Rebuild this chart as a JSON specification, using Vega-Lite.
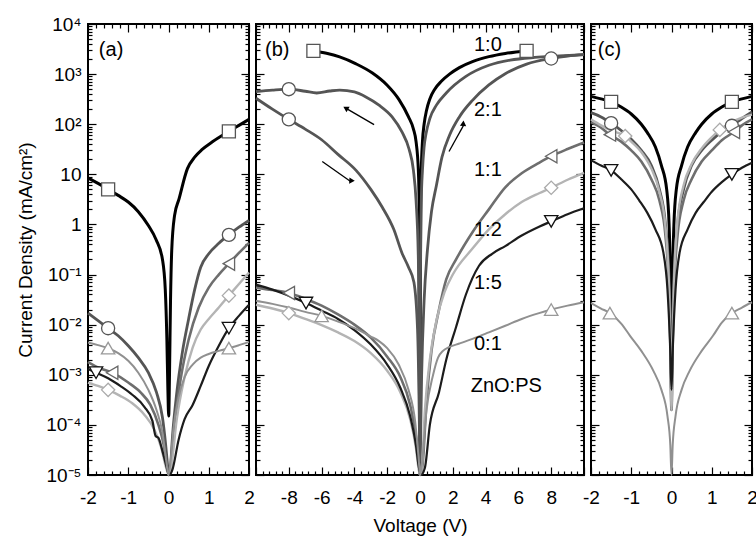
{
  "$schema": "https://vega.github.io/schema/vega-lite/v6.json",
  "padding": {"left": 15, "top": 14, "right": 0, "bottom": 0},
  "bounds": "flush",
  "spacing": 7,
  "config": {
    "font": "Liberation Sans",
    "view": {"stroke": "#000000", "strokeWidth": 2},
    "axis": {"domain": false, "grid": false, "tickColor": "#000000", "tickWidth": 1.2, "labelFont": "Liberation Sans", "labelFontSize": 19, "labelColor": "#000000", "titleFont": "Liberation Sans", "titleFontSize": 19, "titleFontWeight": "normal", "titleColor": "#000000", "labelOverlap": false, "labelFlush": false}
  },
  "datasets": {
    "curves": [
      {"c":"a10","p":"a","s":"1:0","x":-2,"y":8.5},{"c":"a10","p":"a","s":"1:0","x":-1.75,"y":6.6},{"c":"a10","p":"a","s":"1:0","x":-1.5,"y":5},{"c":"a10","p":"a","s":"1:0","x":-1.25,"y":3.8},{"c":"a10","p":"a","s":"1:0","x":-1,"y":2.8},{"c":"a10","p":"a","s":"1:0","x":-0.75,"y":1.8},{"c":"a10","p":"a","s":"1:0","x":-0.5,"y":0.95},{"c":"a10","p":"a","s":"1:0","x":-0.31,"y":0.5},{"c":"a10","p":"a","s":"1:0","x":-0.15,"y":0.2},{"c":"a10","p":"a","s":"1:0","x":-0.08,"y":0.05},{"c":"a10","p":"a","s":"1:0","x":-0.04,"y":0.005},{"c":"a10","p":"a","s":"1:0","x":-0.015,"y":0.0005},{"c":"a10","p":"a","s":"1:0","x":0.005,"y":0.00015},{"c":"a10","p":"a","s":"1:0","x":0.025,"y":0.001},{"c":"a10","p":"a","s":"1:0","x":0.05,"y":0.03},{"c":"a10","p":"a","s":"1:0","x":0.08,"y":0.3},{"c":"a10","p":"a","s":"1:0","x":0.15,"y":1.5},{"c":"a10","p":"a","s":"1:0","x":0.26,"y":3.2},{"c":"a10","p":"a","s":"1:0","x":0.47,"y":13},{"c":"a10","p":"a","s":"1:0","x":0.65,"y":22},{"c":"a10","p":"a","s":"1:0","x":0.83,"y":31},{"c":"a10","p":"a","s":"1:0","x":1.1,"y":45},{"c":"a10","p":"a","s":"1:0","x":1.5,"y":72},{"c":"a10","p":"a","s":"1:0","x":1.75,"y":95},{"c":"a10","p":"a","s":"1:0","x":2,"y":125},
      {"c":"a21","p":"a","s":"2:1","x":-2,"y":0.017},{"c":"a21","p":"a","s":"2:1","x":-1.75,"y":0.012},{"c":"a21","p":"a","s":"2:1","x":-1.5,"y":0.0085},{"c":"a21","p":"a","s":"2:1","x":-1.25,"y":0.006},{"c":"a21","p":"a","s":"2:1","x":-1,"y":0.0038},{"c":"a21","p":"a","s":"2:1","x":-0.75,"y":0.0022},{"c":"a21","p":"a","s":"2:1","x":-0.5,"y":0.0011},{"c":"a21","p":"a","s":"2:1","x":-0.3,"y":0.00045},{"c":"a21","p":"a","s":"2:1","x":-0.15,"y":0.00014},{"c":"a21","p":"a","s":"2:1","x":-0.07,"y":0.00004},{"c":"a21","p":"a","s":"2:1","x":-0.02,"y":0.000015},{"c":"a21","p":"a","s":"2:1","x":0.01,"y":0.00001},{"c":"a21","p":"a","s":"2:1","x":0.05,"y":0.000015},{"c":"a21","p":"a","s":"2:1","x":0.1,"y":0.00006},{"c":"a21","p":"a","s":"2:1","x":0.2,"y":0.0004},{"c":"a21","p":"a","s":"2:1","x":0.35,"y":0.003},{"c":"a21","p":"a","s":"2:1","x":0.5,"y":0.013},{"c":"a21","p":"a","s":"2:1","x":0.65,"y":0.05},{"c":"a21","p":"a","s":"2:1","x":0.8,"y":0.14},{"c":"a21","p":"a","s":"2:1","x":1,"y":0.26},{"c":"a21","p":"a","s":"2:1","x":1.25,"y":0.42},{"c":"a21","p":"a","s":"2:1","x":1.5,"y":0.62},{"c":"a21","p":"a","s":"2:1","x":1.75,"y":0.88},{"c":"a21","p":"a","s":"2:1","x":2,"y":1.2},
      {"c":"a11","p":"a","s":"1:1","x":-2,"y":0.0018},{"c":"a11","p":"a","s":"1:1","x":-1.75,"y":0.0014},{"c":"a11","p":"a","s":"1:1","x":-1.4,"y":0.0011},{"c":"a11","p":"a","s":"1:1","x":-1,"y":0.0007},{"c":"a11","p":"a","s":"1:1","x":-0.7,"y":0.00045},{"c":"a11","p":"a","s":"1:1","x":-0.45,"y":0.00025},{"c":"a11","p":"a","s":"1:1","x":-0.25,"y":0.0001},{"c":"a11","p":"a","s":"1:1","x":-0.12,"y":0.00004},{"c":"a11","p":"a","s":"1:1","x":-0.04,"y":0.000015},{"c":"a11","p":"a","s":"1:1","x":0.01,"y":0.00001},{"c":"a11","p":"a","s":"1:1","x":0.06,"y":0.000015},{"c":"a11","p":"a","s":"1:1","x":0.15,"y":0.0001},{"c":"a11","p":"a","s":"1:1","x":0.3,"y":0.0008},{"c":"a11","p":"a","s":"1:1","x":0.5,"y":0.005},{"c":"a11","p":"a","s":"1:1","x":0.75,"y":0.022},{"c":"a11","p":"a","s":"1:1","x":1,"y":0.055},{"c":"a11","p":"a","s":"1:1","x":1.25,"y":0.1},{"c":"a11","p":"a","s":"1:1","x":1.5,"y":0.165},{"c":"a11","p":"a","s":"1:1","x":1.75,"y":0.27},{"c":"a11","p":"a","s":"1:1","x":2,"y":0.43},
      {"c":"a12","p":"a","s":"1:2","x":-2,"y":0.0007},{"c":"a12","p":"a","s":"1:2","x":-1.75,"y":0.0006},{"c":"a12","p":"a","s":"1:2","x":-1.5,"y":0.0005},{"c":"a12","p":"a","s":"1:2","x":-1.2,"y":0.00038},{"c":"a12","p":"a","s":"1:2","x":-0.9,"y":0.00027},{"c":"a12","p":"a","s":"1:2","x":-0.6,"y":0.00016},{"c":"a12","p":"a","s":"1:2","x":-0.35,"y":0.00008},{"c":"a12","p":"a","s":"1:2","x":-0.18,"y":0.000035},{"c":"a12","p":"a","s":"1:2","x":-0.07,"y":0.000015},{"c":"a12","p":"a","s":"1:2","x":0.01,"y":0.00001},{"c":"a12","p":"a","s":"1:2","x":0.07,"y":0.000015},{"c":"a12","p":"a","s":"1:2","x":0.2,"y":0.00012},{"c":"a12","p":"a","s":"1:2","x":0.4,"y":0.0009},{"c":"a12","p":"a","s":"1:2","x":0.6,"y":0.0035},{"c":"a12","p":"a","s":"1:2","x":0.8,"y":0.008},{"c":"a12","p":"a","s":"1:2","x":1,"y":0.013},{"c":"a12","p":"a","s":"1:2","x":1.25,"y":0.022},{"c":"a12","p":"a","s":"1:2","x":1.5,"y":0.038},{"c":"a12","p":"a","s":"1:2","x":1.75,"y":0.065},{"c":"a12","p":"a","s":"1:2","x":2,"y":0.11},
      {"c":"a15","p":"a","s":"1:5","x":-2,"y":0.0013},{"c":"a15","p":"a","s":"1:5","x":-1.8,"y":0.0011},{"c":"a15","p":"a","s":"1:5","x":-1.5,"y":0.00085},{"c":"a15","p":"a","s":"1:5","x":-1.2,"y":0.0006},{"c":"a15","p":"a","s":"1:5","x":-0.9,"y":0.0004},{"c":"a15","p":"a","s":"1:5","x":-0.6,"y":0.00023},{"c":"a15","p":"a","s":"1:5","x":-0.4,"y":0.00012},{"c":"a15","p":"a","s":"1:5","x":-0.32,"y":0.00006},{"c":"a15","p":"a","s":"1:5","x":-0.25,"y":0.000055},{"c":"a15","p":"a","s":"1:5","x":-0.15,"y":0.00003},{"c":"a15","p":"a","s":"1:5","x":-0.07,"y":0.000017},{"c":"a15","p":"a","s":"1:5","x":0.02,"y":0.00001},{"c":"a15","p":"a","s":"1:5","x":0.1,"y":0.000013},{"c":"a15","p":"a","s":"1:5","x":0.25,"y":0.00005},{"c":"a15","p":"a","s":"1:5","x":0.4,"y":0.00013},{"c":"a15","p":"a","s":"1:5","x":0.6,"y":0.00025},{"c":"a15","p":"a","s":"1:5","x":0.8,"y":0.0006},{"c":"a15","p":"a","s":"1:5","x":1,"y":0.0015},{"c":"a15","p":"a","s":"1:5","x":1.25,"y":0.0038},{"c":"a15","p":"a","s":"1:5","x":1.5,"y":0.0085},{"c":"a15","p":"a","s":"1:5","x":1.75,"y":0.015},{"c":"a15","p":"a","s":"1:5","x":2,"y":0.025},
      {"c":"a01","p":"a","s":"0:1","x":-2,"y":0.0044},{"c":"a01","p":"a","s":"0:1","x":-1.75,"y":0.0039},{"c":"a01","p":"a","s":"0:1","x":-1.5,"y":0.0034},{"c":"a01","p":"a","s":"0:1","x":-1.25,"y":0.0027},{"c":"a01","p":"a","s":"0:1","x":-1,"y":0.0019},{"c":"a01","p":"a","s":"0:1","x":-0.75,"y":0.0011},{"c":"a01","p":"a","s":"0:1","x":-0.5,"y":0.0005},{"c":"a01","p":"a","s":"0:1","x":-0.3,"y":0.0002},{"c":"a01","p":"a","s":"0:1","x":-0.15,"y":0.00007},{"c":"a01","p":"a","s":"0:1","x":-0.06,"y":0.00002},{"c":"a01","p":"a","s":"0:1","x":0,"y":0.00001},{"c":"a01","p":"a","s":"0:1","x":0.05,"y":0.000018},{"c":"a01","p":"a","s":"0:1","x":0.12,"y":0.00008},{"c":"a01","p":"a","s":"0:1","x":0.25,"y":0.00035},{"c":"a01","p":"a","s":"0:1","x":0.4,"y":0.0009},{"c":"a01","p":"a","s":"0:1","x":0.6,"y":0.0016},{"c":"a01","p":"a","s":"0:1","x":0.8,"y":0.0022},{"c":"a01","p":"a","s":"0:1","x":1,"y":0.0026},{"c":"a01","p":"a","s":"0:1","x":1.25,"y":0.003},{"c":"a01","p":"a","s":"0:1","x":1.5,"y":0.0034},{"c":"a01","p":"a","s":"0:1","x":1.75,"y":0.0039},{"c":"a01","p":"a","s":"0:1","x":2,"y":0.0045},

      {"c":"b10","p":"b","s":"1:0","x":-6.5,"y":2900},{"c":"b10","p":"b","s":"1:0","x":-5.7,"y":2600},{"c":"b10","p":"b","s":"1:0","x":-4.9,"y":2200},{"c":"b10","p":"b","s":"1:0","x":-3.9,"y":1600},{"c":"b10","p":"b","s":"1:0","x":-2.9,"y":1050},{"c":"b10","p":"b","s":"1:0","x":-2,"y":600},{"c":"b10","p":"b","s":"1:0","x":-1.28,"y":310},{"c":"b10","p":"b","s":"1:0","x":-0.7,"y":140},{"c":"b10","p":"b","s":"1:0","x":-0.4,"y":80},{"c":"b10","p":"b","s":"1:0","x":-0.24,"y":45},{"c":"b10","p":"b","s":"1:0","x":-0.1,"y":12},{"c":"b10","p":"b","s":"1:0","x":-0.04,"y":1.5},{"c":"b10","p":"b","s":"1:0","x":0,"y":0.0001},{"c":"b10","p":"b","s":"1:0","x":0.04,"y":2},{"c":"b10","p":"b","s":"1:0","x":0.08,"y":12},{"c":"b10","p":"b","s":"1:0","x":0.15,"y":45},{"c":"b10","p":"b","s":"1:0","x":0.25,"y":100},{"c":"b10","p":"b","s":"1:0","x":0.4,"y":190},{"c":"b10","p":"b","s":"1:0","x":0.6,"y":320},{"c":"b10","p":"b","s":"1:0","x":0.9,"y":500},{"c":"b10","p":"b","s":"1:0","x":1.3,"y":720},{"c":"b10","p":"b","s":"1:0","x":1.8,"y":1000},{"c":"b10","p":"b","s":"1:0","x":2.4,"y":1350},{"c":"b10","p":"b","s":"1:0","x":3.2,"y":1780},{"c":"b10","p":"b","s":"1:0","x":4.2,"y":2230},{"c":"b10","p":"b","s":"1:0","x":5.2,"y":2580},{"c":"b10","p":"b","s":"1:0","x":6.5,"y":2900},
      {"c":"b21u","p":"b","s":"2:1","x":-10,"y":450},{"c":"b21u","p":"b","s":"2:1","x":-9,"y":480},{"c":"b21u","p":"b","s":"2:1","x":-8,"y":500},{"c":"b21u","p":"b","s":"2:1","x":-7,"y":455},{"c":"b21u","p":"b","s":"2:1","x":-6.3,"y":420},{"c":"b21u","p":"b","s":"2:1","x":-5.5,"y":460},{"c":"b21u","p":"b","s":"2:1","x":-4.9,"y":480},{"c":"b21u","p":"b","s":"2:1","x":-4,"y":440},{"c":"b21u","p":"b","s":"2:1","x":-3.3,"y":350},{"c":"b21u","p":"b","s":"2:1","x":-2.5,"y":240},{"c":"b21u","p":"b","s":"2:1","x":-1.7,"y":140},{"c":"b21u","p":"b","s":"2:1","x":-1.1,"y":70},{"c":"b21u","p":"b","s":"2:1","x":-0.67,"y":32},{"c":"b21u","p":"b","s":"2:1","x":-0.4,"y":12},{"c":"b21u","p":"b","s":"2:1","x":-0.24,"y":3},{"c":"b21u","p":"b","s":"2:1","x":-0.1,"y":0.2},{"c":"b21u","p":"b","s":"2:1","x":0,"y":0.00001},
      {"c":"b21l","p":"b","s":"2:1","x":-10,"y":330},{"c":"b21l","p":"b","s":"2:1","x":-9,"y":200},{"c":"b21l","p":"b","s":"2:1","x":-8,"y":125},{"c":"b21l","p":"b","s":"2:1","x":-7,"y":80},{"c":"b21l","p":"b","s":"2:1","x":-6,"y":49},{"c":"b21l","p":"b","s":"2:1","x":-5,"y":25},{"c":"b21l","p":"b","s":"2:1","x":-3.9,"y":12},{"c":"b21l","p":"b","s":"2:1","x":-3,"y":5},{"c":"b21l","p":"b","s":"2:1","x":-2.3,"y":2.2},{"c":"b21l","p":"b","s":"2:1","x":-1.6,"y":0.8},{"c":"b21l","p":"b","s":"2:1","x":-1.1,"y":0.27},{"c":"b21l","p":"b","s":"2:1","x":-0.7,"y":0.14},{"c":"b21l","p":"b","s":"2:1","x":-0.37,"y":0.07},{"c":"b21l","p":"b","s":"2:1","x":-0.15,"y":0.008},{"c":"b21l","p":"b","s":"2:1","x":-0.05,"y":0.0002},{"c":"b21l","p":"b","s":"2:1","x":0,"y":0.00001},
      {"c":"b21r1","p":"b","s":"2:1","x":0,"y":0.00001},{"c":"b21r1","p":"b","s":"2:1","x":0.03,"y":0.1},{"c":"b21r1","p":"b","s":"2:1","x":0.08,"y":3},{"c":"b21r1","p":"b","s":"2:1","x":0.15,"y":12},{"c":"b21r1","p":"b","s":"2:1","x":0.25,"y":35},{"c":"b21r1","p":"b","s":"2:1","x":0.37,"y":65},{"c":"b21r1","p":"b","s":"2:1","x":0.6,"y":130},{"c":"b21r1","p":"b","s":"2:1","x":1,"y":240},{"c":"b21r1","p":"b","s":"2:1","x":1.6,"y":420},{"c":"b21r1","p":"b","s":"2:1","x":2.8,"y":900},{"c":"b21r1","p":"b","s":"2:1","x":4.2,"y":1500},{"c":"b21r1","p":"b","s":"2:1","x":5.5,"y":1900},{"c":"b21r1","p":"b","s":"2:1","x":7,"y":2150},{"c":"b21r1","p":"b","s":"2:1","x":8.5,"y":2300},{"c":"b21r1","p":"b","s":"2:1","x":10,"y":2450},
      {"c":"b21r2","p":"b","s":"2:1","x":0,"y":0.00001},{"c":"b21r2","p":"b","s":"2:1","x":0.1,"y":0.001},{"c":"b21r2","p":"b","s":"2:1","x":0.25,"y":0.03},{"c":"b21r2","p":"b","s":"2:1","x":0.45,"y":0.3},{"c":"b21r2","p":"b","s":"2:1","x":0.7,"y":1.8},{"c":"b21r2","p":"b","s":"2:1","x":1,"y":6},{"c":"b21r2","p":"b","s":"2:1","x":1.34,"y":22},{"c":"b21r2","p":"b","s":"2:1","x":1.8,"y":60},{"c":"b21r2","p":"b","s":"2:1","x":2.4,"y":140},{"c":"b21r2","p":"b","s":"2:1","x":3.2,"y":300},{"c":"b21r2","p":"b","s":"2:1","x":4.2,"y":610},{"c":"b21r2","p":"b","s":"2:1","x":5.2,"y":1020},{"c":"b21r2","p":"b","s":"2:1","x":6.5,"y":1580},{"c":"b21r2","p":"b","s":"2:1","x":8,"y":2050},{"c":"b21r2","p":"b","s":"2:1","x":9,"y":2300},{"c":"b21r2","p":"b","s":"2:1","x":10,"y":2450},
      {"c":"b11","p":"b","s":"1:1","x":-10,"y":0.055},{"c":"b11","p":"b","s":"1:1","x":-9,"y":0.049},{"c":"b11","p":"b","s":"1:1","x":-8,"y":0.043},{"c":"b11","p":"b","s":"1:1","x":-7,"y":0.033},{"c":"b11","p":"b","s":"1:1","x":-6,"y":0.024},{"c":"b11","p":"b","s":"1:1","x":-5,"y":0.016},{"c":"b11","p":"b","s":"1:1","x":-4,"y":0.01},{"c":"b11","p":"b","s":"1:1","x":-3,"y":0.0055},{"c":"b11","p":"b","s":"1:1","x":-2,"y":0.0023},{"c":"b11","p":"b","s":"1:1","x":-1.2,"y":0.0009},{"c":"b11","p":"b","s":"1:1","x":-0.6,"y":0.00025},{"c":"b11","p":"b","s":"1:1","x":-0.25,"y":0.00006},{"c":"b11","p":"b","s":"1:1","x":-0.08,"y":0.000018},{"c":"b11","p":"b","s":"1:1","x":0.02,"y":0.00001},{"c":"b11","p":"b","s":"1:1","x":0.15,"y":0.000015},{"c":"b11","p":"b","s":"1:1","x":0.4,"y":0.0003},{"c":"b11","p":"b","s":"1:1","x":0.7,"y":0.003},{"c":"b11","p":"b","s":"1:1","x":1.16,"y":0.02},{"c":"b11","p":"b","s":"1:1","x":1.6,"y":0.08},{"c":"b11","p":"b","s":"1:1","x":2.2,"y":0.2},{"c":"b11","p":"b","s":"1:1","x":3.2,"y":0.7},{"c":"b11","p":"b","s":"1:1","x":4.2,"y":2},{"c":"b11","p":"b","s":"1:1","x":5.2,"y":5.5},{"c":"b11","p":"b","s":"1:1","x":6.2,"y":10.5},{"c":"b11","p":"b","s":"1:1","x":7.26,"y":17},{"c":"b11","p":"b","s":"1:1","x":8,"y":23},{"c":"b11","p":"b","s":"1:1","x":9,"y":32},{"c":"b11","p":"b","s":"1:1","x":10,"y":43},
      {"c":"b12","p":"b","s":"1:2","x":-10,"y":0.025},{"c":"b12","p":"b","s":"1:2","x":-9,"y":0.021},{"c":"b12","p":"b","s":"1:2","x":-8,"y":0.017},{"c":"b12","p":"b","s":"1:2","x":-7,"y":0.013},{"c":"b12","p":"b","s":"1:2","x":-6,"y":0.0098},{"c":"b12","p":"b","s":"1:2","x":-5,"y":0.007},{"c":"b12","p":"b","s":"1:2","x":-4,"y":0.0047},{"c":"b12","p":"b","s":"1:2","x":-3,"y":0.0027},{"c":"b12","p":"b","s":"1:2","x":-2,"y":0.0012},{"c":"b12","p":"b","s":"1:2","x":-1.2,"y":0.00045},{"c":"b12","p":"b","s":"1:2","x":-0.6,"y":0.00013},{"c":"b12","p":"b","s":"1:2","x":-0.25,"y":0.000035},{"c":"b12","p":"b","s":"1:2","x":-0.08,"y":0.000013},{"c":"b12","p":"b","s":"1:2","x":0.01,"y":0.00001},{"c":"b12","p":"b","s":"1:2","x":0.1,"y":0.000013},{"c":"b12","p":"b","s":"1:2","x":0.3,"y":0.0002},{"c":"b12","p":"b","s":"1:2","x":0.6,"y":0.002},{"c":"b12","p":"b","s":"1:2","x":1,"y":0.012},{"c":"b12","p":"b","s":"1:2","x":1.5,"y":0.045},{"c":"b12","p":"b","s":"1:2","x":2,"y":0.1},{"c":"b12","p":"b","s":"1:2","x":3.2,"y":0.33},{"c":"b12","p":"b","s":"1:2","x":4.2,"y":0.8},{"c":"b12","p":"b","s":"1:2","x":5.2,"y":1.6},{"c":"b12","p":"b","s":"1:2","x":6.2,"y":2.8},{"c":"b12","p":"b","s":"1:2","x":7.26,"y":4.2},{"c":"b12","p":"b","s":"1:2","x":8,"y":5.4},{"c":"b12","p":"b","s":"1:2","x":9,"y":7.8},{"c":"b12","p":"b","s":"1:2","x":10,"y":10.7},
      {"c":"b15","p":"b","s":"1:5","x":-10,"y":0.063},{"c":"b15","p":"b","s":"1:5","x":-9,"y":0.05},{"c":"b15","p":"b","s":"1:5","x":-8,"y":0.038},{"c":"b15","p":"b","s":"1:5","x":-6.95,"y":0.027},{"c":"b15","p":"b","s":"1:5","x":-6,"y":0.019},{"c":"b15","p":"b","s":"1:5","x":-5,"y":0.013},{"c":"b15","p":"b","s":"1:5","x":-4,"y":0.0078},{"c":"b15","p":"b","s":"1:5","x":-3,"y":0.004},{"c":"b15","p":"b","s":"1:5","x":-2,"y":0.0016},{"c":"b15","p":"b","s":"1:5","x":-1.2,"y":0.00055},{"c":"b15","p":"b","s":"1:5","x":-0.6,"y":0.00015},{"c":"b15","p":"b","s":"1:5","x":-0.25,"y":0.00004},{"c":"b15","p":"b","s":"1:5","x":-0.08,"y":0.000015},{"c":"b15","p":"b","s":"1:5","x":0.05,"y":0.00001},{"c":"b15","p":"b","s":"1:5","x":0.3,"y":0.000014},{"c":"b15","p":"b","s":"1:5","x":0.6,"y":0.0001},{"c":"b15","p":"b","s":"1:5","x":1.16,"y":0.00045},{"c":"b15","p":"b","s":"1:5","x":1.6,"y":0.002},{"c":"b15","p":"b","s":"1:5","x":2.2,"y":0.009},{"c":"b15","p":"b","s":"1:5","x":2.8,"y":0.04},{"c":"b15","p":"b","s":"1:5","x":3.6,"y":0.15},{"c":"b15","p":"b","s":"1:5","x":4.4,"y":0.26},{"c":"b15","p":"b","s":"1:5","x":5.2,"y":0.37},{"c":"b15","p":"b","s":"1:5","x":6.2,"y":0.6},{"c":"b15","p":"b","s":"1:5","x":7.26,"y":0.9},{"c":"b15","p":"b","s":"1:5","x":8,"y":1.15},{"c":"b15","p":"b","s":"1:5","x":9,"y":1.6},{"c":"b15","p":"b","s":"1:5","x":10,"y":2.1},
      {"c":"b01","p":"b","s":"0:1","x":-10,"y":0.03},{"c":"b01","p":"b","s":"0:1","x":-9,"y":0.026},{"c":"b01","p":"b","s":"0:1","x":-8,"y":0.022},{"c":"b01","p":"b","s":"0:1","x":-7,"y":0.018},{"c":"b01","p":"b","s":"0:1","x":-6,"y":0.015},{"c":"b01","p":"b","s":"0:1","x":-5,"y":0.0115},{"c":"b01","p":"b","s":"0:1","x":-4,"y":0.0085},{"c":"b01","p":"b","s":"0:1","x":-3,"y":0.0058},{"c":"b01","p":"b","s":"0:1","x":-2.5,"y":0.0047},{"c":"b01","p":"b","s":"0:1","x":-2,"y":0.0034},{"c":"b01","p":"b","s":"0:1","x":-1.3,"y":0.0016},{"c":"b01","p":"b","s":"0:1","x":-0.7,"y":0.0005},{"c":"b01","p":"b","s":"0:1","x":-0.3,"y":0.00012},{"c":"b01","p":"b","s":"0:1","x":-0.1,"y":0.000025},{"c":"b01","p":"b","s":"0:1","x":0.01,"y":0.00001},{"c":"b01","p":"b","s":"0:1","x":0.1,"y":0.000015},{"c":"b01","p":"b","s":"0:1","x":0.4,"y":0.0002},{"c":"b01","p":"b","s":"0:1","x":0.8,"y":0.001},{"c":"b01","p":"b","s":"0:1","x":1.1,"y":0.0022},{"c":"b01","p":"b","s":"0:1","x":1.4,"y":0.003},{"c":"b01","p":"b","s":"0:1","x":1.8,"y":0.0036},{"c":"b01","p":"b","s":"0:1","x":2.4,"y":0.0042},{"c":"b01","p":"b","s":"0:1","x":3.2,"y":0.0052},{"c":"b01","p":"b","s":"0:1","x":4.2,"y":0.007},{"c":"b01","p":"b","s":"0:1","x":5.2,"y":0.0095},{"c":"b01","p":"b","s":"0:1","x":6.2,"y":0.013},{"c":"b01","p":"b","s":"0:1","x":7.26,"y":0.017},{"c":"b01","p":"b","s":"0:1","x":8,"y":0.02},{"c":"b01","p":"b","s":"0:1","x":9,"y":0.024},{"c":"b01","p":"b","s":"0:1","x":10,"y":0.028},

      {"c":"c10","p":"c","s":"1:0","x":-2,"y":360},{"c":"c10","p":"c","s":"1:0","x":-1.75,"y":320},{"c":"c10","p":"c","s":"1:0","x":-1.5,"y":280},{"c":"c10","p":"c","s":"1:0","x":-1.25,"y":220},{"c":"c10","p":"c","s":"1:0","x":-1,"y":160},{"c":"c10","p":"c","s":"1:0","x":-0.75,"y":100},{"c":"c10","p":"c","s":"1:0","x":-0.6,"y":68},{"c":"c10","p":"c","s":"1:0","x":-0.4,"y":35},{"c":"c10","p":"c","s":"1:0","x":-0.25,"y":15},{"c":"c10","p":"c","s":"1:0","x":-0.12,"y":5},{"c":"c10","p":"c","s":"1:0","x":-0.06,"y":1},{"c":"c10","p":"c","s":"1:0","x":-0.03,"y":0.1},{"c":"c10","p":"c","s":"1:0","x":-0.01,"y":0.003},{"c":"c10","p":"c","s":"1:0","x":0,"y":0.0005},{"c":"c10","p":"c","s":"1:0","x":0.01,"y":0.003},{"c":"c10","p":"c","s":"1:0","x":0.03,"y":0.1},{"c":"c10","p":"c","s":"1:0","x":0.06,"y":1},{"c":"c10","p":"c","s":"1:0","x":0.12,"y":5},{"c":"c10","p":"c","s":"1:0","x":0.25,"y":15},{"c":"c10","p":"c","s":"1:0","x":0.4,"y":35},{"c":"c10","p":"c","s":"1:0","x":0.6,"y":68},{"c":"c10","p":"c","s":"1:0","x":0.75,"y":100},{"c":"c10","p":"c","s":"1:0","x":1,"y":160},{"c":"c10","p":"c","s":"1:0","x":1.25,"y":220},{"c":"c10","p":"c","s":"1:0","x":1.5,"y":280},{"c":"c10","p":"c","s":"1:0","x":1.75,"y":320},{"c":"c10","p":"c","s":"1:0","x":2,"y":360},
      {"c":"c21","p":"c","s":"2:1","x":-2,"y":170},{"c":"c21","p":"c","s":"2:1","x":-1.75,"y":140},{"c":"c21","p":"c","s":"2:1","x":-1.5,"y":105},{"c":"c21","p":"c","s":"2:1","x":-1.25,"y":75},{"c":"c21","p":"c","s":"2:1","x":-1,"y":50},{"c":"c21","p":"c","s":"2:1","x":-0.75,"y":30},{"c":"c21","p":"c","s":"2:1","x":-0.5,"y":15},{"c":"c21","p":"c","s":"2:1","x":-0.3,"y":5},{"c":"c21","p":"c","s":"2:1","x":-0.15,"y":1},{"c":"c21","p":"c","s":"2:1","x":-0.06,"y":0.08},{"c":"c21","p":"c","s":"2:1","x":-0.02,"y":0.003},{"c":"c21","p":"c","s":"2:1","x":0,"y":0.0002},{"c":"c21","p":"c","s":"2:1","x":0.02,"y":0.003},{"c":"c21","p":"c","s":"2:1","x":0.06,"y":0.08},{"c":"c21","p":"c","s":"2:1","x":0.15,"y":1},{"c":"c21","p":"c","s":"2:1","x":0.3,"y":5},{"c":"c21","p":"c","s":"2:1","x":0.5,"y":15},{"c":"c21","p":"c","s":"2:1","x":0.75,"y":30},{"c":"c21","p":"c","s":"2:1","x":1,"y":48},{"c":"c21","p":"c","s":"2:1","x":1.25,"y":70},{"c":"c21","p":"c","s":"2:1","x":1.5,"y":93},{"c":"c21","p":"c","s":"2:1","x":1.75,"y":130},{"c":"c21","p":"c","s":"2:1","x":2,"y":175},
      {"c":"c11","p":"c","s":"1:1","x":-2,"y":110},{"c":"c11","p":"c","s":"1:1","x":-1.75,"y":85},{"c":"c11","p":"c","s":"1:1","x":-1.53,"y":62},{"c":"c11","p":"c","s":"1:1","x":-1.25,"y":45},{"c":"c11","p":"c","s":"1:1","x":-1,"y":30},{"c":"c11","p":"c","s":"1:1","x":-0.75,"y":18},{"c":"c11","p":"c","s":"1:1","x":-0.5,"y":8},{"c":"c11","p":"c","s":"1:1","x":-0.3,"y":3},{"c":"c11","p":"c","s":"1:1","x":-0.15,"y":0.6},{"c":"c11","p":"c","s":"1:1","x":-0.06,"y":0.04},{"c":"c11","p":"c","s":"1:1","x":-0.02,"y":0.002},{"c":"c11","p":"c","s":"1:1","x":0,"y":0.0002},{"c":"c11","p":"c","s":"1:1","x":0.02,"y":0.002},{"c":"c11","p":"c","s":"1:1","x":0.06,"y":0.04},{"c":"c11","p":"c","s":"1:1","x":0.15,"y":0.6},{"c":"c11","p":"c","s":"1:1","x":0.3,"y":3},{"c":"c11","p":"c","s":"1:1","x":0.5,"y":8},{"c":"c11","p":"c","s":"1:1","x":0.75,"y":18},{"c":"c11","p":"c","s":"1:1","x":1,"y":30},{"c":"c11","p":"c","s":"1:1","x":1.25,"y":48},{"c":"c11","p":"c","s":"1:1","x":1.55,"y":70},{"c":"c11","p":"c","s":"1:1","x":1.75,"y":95},{"c":"c11","p":"c","s":"1:1","x":2,"y":125},
      {"c":"c12","p":"c","s":"1:2","x":-2,"y":125},{"c":"c12","p":"c","s":"1:2","x":-1.75,"y":95},{"c":"c12","p":"c","s":"1:2","x":-1.5,"y":75},{"c":"c12","p":"c","s":"1:2","x":-1.15,"y":58},{"c":"c12","p":"c","s":"1:2","x":-1,"y":45},{"c":"c12","p":"c","s":"1:2","x":-0.75,"y":28},{"c":"c12","p":"c","s":"1:2","x":-0.5,"y":13},{"c":"c12","p":"c","s":"1:2","x":-0.3,"y":4.5},{"c":"c12","p":"c","s":"1:2","x":-0.15,"y":0.9},{"c":"c12","p":"c","s":"1:2","x":-0.06,"y":0.05},{"c":"c12","p":"c","s":"1:2","x":-0.02,"y":0.002},{"c":"c12","p":"c","s":"1:2","x":0,"y":0.0002},{"c":"c12","p":"c","s":"1:2","x":0.02,"y":0.002},{"c":"c12","p":"c","s":"1:2","x":0.06,"y":0.06},{"c":"c12","p":"c","s":"1:2","x":0.15,"y":1.2},{"c":"c12","p":"c","s":"1:2","x":0.3,"y":6},{"c":"c12","p":"c","s":"1:2","x":0.5,"y":16},{"c":"c12","p":"c","s":"1:2","x":0.75,"y":33},{"c":"c12","p":"c","s":"1:2","x":1,"y":55},{"c":"c12","p":"c","s":"1:2","x":1.2,"y":77},{"c":"c12","p":"c","s":"1:2","x":1.5,"y":110},{"c":"c12","p":"c","s":"1:2","x":1.75,"y":135},{"c":"c12","p":"c","s":"1:2","x":2,"y":155},
      {"c":"c15","p":"c","s":"1:5","x":-2,"y":19},{"c":"c15","p":"c","s":"1:5","x":-1.75,"y":15},{"c":"c15","p":"c","s":"1:5","x":-1.5,"y":12},{"c":"c15","p":"c","s":"1:5","x":-1.25,"y":8},{"c":"c15","p":"c","s":"1:5","x":-1,"y":5},{"c":"c15","p":"c","s":"1:5","x":-0.8,"y":3},{"c":"c15","p":"c","s":"1:5","x":-0.6,"y":1.7},{"c":"c15","p":"c","s":"1:5","x":-0.4,"y":0.8},{"c":"c15","p":"c","s":"1:5","x":-0.2,"y":0.27},{"c":"c15","p":"c","s":"1:5","x":-0.1,"y":0.05},{"c":"c15","p":"c","s":"1:5","x":-0.04,"y":0.005},{"c":"c15","p":"c","s":"1:5","x":0,"y":0.0005},{"c":"c15","p":"c","s":"1:5","x":0.04,"y":0.005},{"c":"c15","p":"c","s":"1:5","x":0.1,"y":0.05},{"c":"c15","p":"c","s":"1:5","x":0.2,"y":0.27},{"c":"c15","p":"c","s":"1:5","x":0.4,"y":0.8},{"c":"c15","p":"c","s":"1:5","x":0.6,"y":1.7},{"c":"c15","p":"c","s":"1:5","x":0.8,"y":2.8},{"c":"c15","p":"c","s":"1:5","x":1,"y":4.5},{"c":"c15","p":"c","s":"1:5","x":1.25,"y":7},{"c":"c15","p":"c","s":"1:5","x":1.5,"y":10},{"c":"c15","p":"c","s":"1:5","x":1.75,"y":13.5},{"c":"c15","p":"c","s":"1:5","x":2,"y":17},
      {"c":"c01","p":"c","s":"0:1","x":-2,"y":0.027},{"c":"c01","p":"c","s":"0:1","x":-1.75,"y":0.021},{"c":"c01","p":"c","s":"0:1","x":-1.53,"y":0.017},{"c":"c01","p":"c","s":"0:1","x":-1.25,"y":0.0105},{"c":"c01","p":"c","s":"0:1","x":-1.03,"y":0.006},{"c":"c01","p":"c","s":"0:1","x":-0.75,"y":0.003},{"c":"c01","p":"c","s":"0:1","x":-0.45,"y":0.0012},{"c":"c01","p":"c","s":"0:1","x":-0.25,"y":0.0005},{"c":"c01","p":"c","s":"0:1","x":-0.1,"y":0.00015},{"c":"c01","p":"c","s":"0:1","x":-0.03,"y":0.00004},{"c":"c01","p":"c","s":"0:1","x":0,"y":0.00001},{"c":"c01","p":"c","s":"0:1","x":0.03,"y":0.00004},{"c":"c01","p":"c","s":"0:1","x":0.1,"y":0.00015},{"c":"c01","p":"c","s":"0:1","x":0.25,"y":0.0005},{"c":"c01","p":"c","s":"0:1","x":0.45,"y":0.0012},{"c":"c01","p":"c","s":"0:1","x":0.75,"y":0.003},{"c":"c01","p":"c","s":"0:1","x":1.03,"y":0.006},{"c":"c01","p":"c","s":"0:1","x":1.25,"y":0.011},{"c":"c01","p":"c","s":"0:1","x":1.5,"y":0.017},{"c":"c01","p":"c","s":"0:1","x":1.75,"y":0.022},{"c":"c01","p":"c","s":"0:1","x":2,"y":0.028}
    ],
    "markers": [
      {"p":"a","s":"1:0","x":-1.5,"y":5},{"p":"a","s":"1:0","x":1.5,"y":72},{"p":"a","s":"2:1","x":-1.5,"y":0.0085},{"p":"a","s":"2:1","x":1.5,"y":0.62},{"p":"a","s":"1:1","x":-1.4,"y":0.0011},{"p":"a","s":"1:1","x":1.5,"y":0.165},{"p":"a","s":"1:2","x":-1.5,"y":0.0005},{"p":"a","s":"1:2","x":1.5,"y":0.038},{"p":"a","s":"1:5","x":-1.8,"y":0.0011},{"p":"a","s":"1:5","x":1.5,"y":0.0085},{"p":"a","s":"0:1","x":-1.5,"y":0.0034},{"p":"a","s":"0:1","x":1.5,"y":0.0034},
      {"p":"b","s":"1:0","x":-6.5,"y":2900},{"p":"b","s":"1:0","x":6.5,"y":2900},{"p":"b","s":"2:1","x":-8,"y":500},{"p":"b","s":"2:1","x":-8,"y":125},{"p":"b","s":"2:1","x":8,"y":2050},{"p":"b","s":"1:1","x":-8,"y":0.043},{"p":"b","s":"1:1","x":8,"y":23},{"p":"b","s":"1:2","x":-8,"y":0.017},{"p":"b","s":"1:2","x":8,"y":5.4},{"p":"b","s":"1:5","x":-6.95,"y":0.027},{"p":"b","s":"1:5","x":8,"y":1.15},{"p":"b","s":"0:1","x":-6,"y":0.015},{"p":"b","s":"0:1","x":8,"y":0.02},
      {"p":"c","s":"1:0","x":-1.5,"y":280},{"p":"c","s":"1:0","x":1.5,"y":280},{"p":"c","s":"2:1","x":-1.5,"y":105},{"p":"c","s":"2:1","x":1.5,"y":93},{"p":"c","s":"1:1","x":-1.53,"y":62},{"p":"c","s":"1:1","x":1.55,"y":70},{"p":"c","s":"1:2","x":-1.15,"y":58},{"p":"c","s":"1:2","x":1.2,"y":77},{"p":"c","s":"1:5","x":-1.5,"y":12},{"p":"c","s":"1:5","x":1.5,"y":10},{"p":"c","s":"0:1","x":-1.53,"y":0.017},{"p":"c","s":"0:1","x":1.5,"y":0.017}
    ],
    "notes": [
      {"p":"a","t":"(a)","x":-1.73,"y":3000},
      {"p":"b","t":"(b)","x":-9.45,"y":3000},
      {"p":"c","t":"(c)","x":-1.83,"y":3000},
      {"p":"b","t":"1:0","x":3.29,"y":3800},
      {"p":"b","t":"2:1","x":3.29,"y":195},
      {"p":"b","t":"1:1","x":3.29,"y":12.4},
      {"p":"b","t":"1:2","x":3.29,"y":0.79},
      {"p":"b","t":"1:5","x":3.29,"y":0.069},
      {"p":"b","t":"0:1","x":3.29,"y":0.0041},
      {"p":"b","t":"ZnO:PS","x":3.09,"y":0.00059}
    ],
    "arrows": [
      {"id":"a1","x":-2.8,"y":98,"x2":-4.53,"y2":209},
      {"id":"a2","x":-5.96,"y":18,"x2":-4.23,"y2":7.2},
      {"id":"a3","x":1.77,"y":28.6,"x2":2.68,"y2":98}
    ]
  },
  "hconcat": [
    {
      "width": 161, "height": 451,
      "layer": [
        {
          "data": {"name": "curves"},
          "transform": [{"filter": "datum.p == 'a'"}],
          "mark": {"type": "line", "interpolate": "monotone"},
          "encoding": {
            "x": {"field": "x", "type": "quantitative", "scale": {"domain": [-2, 2], "nice": false, "zero": false},
              "axis": {"orient": "bottom", "title": null, "values": [-2,-1.8,-1.6,-1.4,-1.2,-1,-0.8,-0.6,-0.4,-0.2,0,0.2,0.4,0.6,0.8,1,1.2,1.4,1.6,1.8,2],
                "labelExpr": "abs(datum.value-round(datum.value))<0.001 ? (datum.value < -0.001 ? '-' + abs(round(datum.value)) : '' + round(datum.value)) : ''",
                "tickSize": {"condition": {"test": "abs(datum.value-round(datum.value))<0.001", "value": -8}, "value": -4},
                "labelPadding": 21}},
            "y": {"field": "y", "type": "quantitative", "scale": {"type": "log", "domain": [0.00001, 10000], "nice": false},
              "axis": {"orient": "left", "title": "Current Density (mA/cm²)", "titlePadding": 10,
                "values": [0.00001,0.00002,0.00003,0.00004,0.00005,0.00006,0.00007,0.00008,0.00009,0.0001,0.0002,0.0003,0.0004,0.0005,0.0006,0.0007,0.0008,0.0009,0.001,0.002,0.003,0.004,0.005,0.006,0.007,0.008,0.009,0.01,0.02,0.03,0.04,0.05,0.06,0.07,0.08,0.09,0.1,0.2,0.3,0.4,0.5,0.6,0.7,0.8,0.9,1,2,3,4,5,6,7,8,9,10,20,30,40,50,60,70,80,90,100,200,300,400,500,600,700,800,900,1000,2000,3000,4000,5000,6000,7000,8000,9000,10000],
                "labelExpr": "abs(log(datum.value)/LN10-round(log(datum.value)/LN10))>0.01 ? '' : ['10⁻⁵','10⁻⁴','10⁻³','10⁻²','10⁻¹','1','10','10²','10³','10⁴'][round(log(datum.value)/LN10)+5]",
                "tickSize": {"condition": {"test": "abs(log(datum.value)/LN10-round(log(datum.value)/LN10))<0.01", "value": -8}, "value": -4},
                "labelPadding": 15}},
            "detail": {"field": "c"},
            "color": {"field": "s", "type": "nominal", "scale": {"domain": ["1:0","2:1","1:1","1:2","1:5","0:1"], "range": ["#000000","#555555","#6e6e6e","#b4b4b4","#1c1c1c","#909090"]}, "legend": null},
            "strokeWidth": {"field": "s", "type": "nominal", "scale": {"domain": ["1:0","2:1","1:1","1:2","1:5","0:1"], "range": [3, 2, 3, 2.5, 2.5, 2.5]}, "legend": null}
          }
        },
        {
          "data": {"name": "markers"},
          "transform": [{"filter": "datum.p == 'a'"}],
          "mark": {"type": "point", "filled": true, "fill": "#ffffff", "fillOpacity": 1, "opacity": 1, "strokeWidth": 1.3},
          "encoding": {
            "x": {"field": "x", "type": "quantitative", "scale": {"domain": [-2, 2], "nice": false, "zero": false},
              "axis": {"orient": "top", "title": null, "labels": false, "values": [-2,-1.8,-1.6,-1.4,-1.2,-1,-0.8,-0.6,-0.4,-0.2,0,0.2,0.4,0.6,0.8,1,1.2,1.4,1.6,1.8,2],
                "tickSize": {"condition": {"test": "abs(datum.value-round(datum.value))<0.001", "value": -8}, "value": -4}}},
            "y": {"field": "y", "type": "quantitative", "scale": {"type": "log", "domain": [0.00001, 10000], "nice": false},
              "axis": {"orient": "right", "title": null, "labels": false,
                "values": [0.00001,0.00002,0.00003,0.00004,0.00005,0.00006,0.00007,0.00008,0.00009,0.0001,0.0002,0.0003,0.0004,0.0005,0.0006,0.0007,0.0008,0.0009,0.001,0.002,0.003,0.004,0.005,0.006,0.007,0.008,0.009,0.01,0.02,0.03,0.04,0.05,0.06,0.07,0.08,0.09,0.1,0.2,0.3,0.4,0.5,0.6,0.7,0.8,0.9,1,2,3,4,5,6,7,8,9,10,20,30,40,50,60,70,80,90,100,200,300,400,500,600,700,800,900,1000,2000,3000,4000,5000,6000,7000,8000,9000,10000],
                "tickSize": {"condition": {"test": "abs(log(datum.value)/LN10-round(log(datum.value)/LN10))<0.01", "value": -8}, "value": -4}}},
            "shape": {"field": "s", "type": "nominal", "scale": {"domain": ["1:0","2:1","1:1","1:2","1:5","0:1"], "range": ["square","circle","triangle-left","diamond","triangle-down","triangle-up"]}, "legend": null},
            "stroke": {"field": "s", "type": "nominal", "scale": {"domain": ["1:0","2:1","1:1","1:2","1:5","0:1"], "range": ["#555555","#555555","#666666","#aaaaaa","#111111","#999999"]}, "legend": null},
            "size": {"field": "s", "type": "nominal", "scale": {"domain": ["1:0","2:1","1:1","1:2","1:5","0:1"], "range": [170, 180, 250, 230, 250, 250]}, "legend": null}
          }
        },
        {
          "data": {"name": "notes"},
          "transform": [{"filter": "datum.p == 'a'"}],
          "mark": {"type": "text", "align": "left", "baseline": "middle", "fontSize": 20, "font": "Liberation Sans", "color": "#000000"},
          "encoding": {
            "x": {"field": "x", "type": "quantitative", "scale": {"domain": [-2, 2], "nice": false, "zero": false}, "axis": null},
            "y": {"field": "y", "type": "quantitative", "scale": {"type": "log", "domain": [0.00001, 10000], "nice": false}, "axis": null},
            "text": {"field": "t"}
          }
        }
      ],
      "resolve": {"axis": {"x": "independent", "y": "independent"}}
    },
    {
      "width": 328, "height": 451,
      "layer": [
        {
          "data": {"name": "curves"},
          "transform": [{"filter": "datum.p == 'b'"}],
          "mark": {"type": "line", "interpolate": "monotone"},
          "encoding": {
            "x": {"field": "x", "type": "quantitative", "scale": {"domain": [-10, 10], "nice": false, "zero": false},
              "axis": {"orient": "bottom", "title": "Voltage (V)", "titlePadding": 5, "values": [-10,-9.6,-9.2,-8.8,-8.4,-8,-7.6,-7.2,-6.8,-6.4,-6,-5.6,-5.2,-4.8,-4.4,-4,-3.6,-3.2,-2.8,-2.4,-2,-1.6,-1.2,-0.8,-0.4,0,0.4,0.8,1.2,1.6,2,2.4,2.8,3.2,3.6,4,4.4,4.8,5.2,5.6,6,6.4,6.8,7.2,7.6,8,8.4,8.8,9.2,9.6,10],
                "labelExpr": "abs(datum.value/2-round(datum.value/2))<0.001 && abs(datum.value)<9 ? (datum.value < -0.001 ? '-' + abs(round(datum.value)) : '' + round(datum.value)) : ''",
                "tickSize": {"condition": {"test": "abs(datum.value/2-round(datum.value/2))<0.001", "value": -8}, "value": -4},
                "labelPadding": 21}},
            "y": {"field": "y", "type": "quantitative", "scale": {"type": "log", "domain": [0.00001, 10000], "nice": false},
              "axis": {"orient": "left", "title": null, "labels": false,
                "values": [0.00001,0.00002,0.00003,0.00004,0.00005,0.00006,0.00007,0.00008,0.00009,0.0001,0.0002,0.0003,0.0004,0.0005,0.0006,0.0007,0.0008,0.0009,0.001,0.002,0.003,0.004,0.005,0.006,0.007,0.008,0.009,0.01,0.02,0.03,0.04,0.05,0.06,0.07,0.08,0.09,0.1,0.2,0.3,0.4,0.5,0.6,0.7,0.8,0.9,1,2,3,4,5,6,7,8,9,10,20,30,40,50,60,70,80,90,100,200,300,400,500,600,700,800,900,1000,2000,3000,4000,5000,6000,7000,8000,9000,10000],
                "tickSize": {"condition": {"test": "abs(log(datum.value)/LN10-round(log(datum.value)/LN10))<0.01", "value": -8}, "value": -4}}},
            "detail": {"field": "c"},
            "color": {"field": "s", "type": "nominal", "scale": {"domain": ["1:0","2:1","1:1","1:2","1:5","0:1"], "range": ["#000000","#555555","#6e6e6e","#b4b4b4","#1c1c1c","#909090"]}, "legend": null},
            "strokeWidth": {"field": "s", "type": "nominal", "scale": {"domain": ["1:0","2:1","1:1","1:2","1:5","0:1"], "range": [3, 2, 3, 2.5, 2.5, 2.5]}, "legend": null}
          }
        },
        {
          "data": {"name": "arrows"},
          "mark": {"type": "rule", "color": "#000000", "strokeWidth": 1.3},
          "encoding": {
            "x": {"field": "x", "type": "quantitative", "scale": {"domain": [-10, 10], "nice": false, "zero": false}, "axis": null},
            "y": {"field": "y", "type": "quantitative", "scale": {"type": "log", "domain": [0.00001, 10000], "nice": false}, "axis": null},
            "x2": {"field": "x2"},
            "y2": {"field": "y2"}
          }
        },
        {
          "data": {"name": "arrows"},
          "mark": {"type": "point", "shape": "triangle-up", "filled": true, "color": "#000000", "size": 40, "opacity": 1},
          "encoding": {
            "x": {"field": "x2", "type": "quantitative", "scale": {"domain": [-10, 10], "nice": false, "zero": false}, "axis": null},
            "y": {"field": "y2", "type": "quantitative", "scale": {"type": "log", "domain": [0.00001, 10000], "nice": false}, "axis": null},
            "angle": {"field": "id", "type": "nominal", "scale": {"domain": ["a1","a2","a3"], "range": [300, 125, 29]}, "legend": null}
          }
        },
        {
          "data": {"name": "markers"},
          "transform": [{"filter": "datum.p == 'b'"}],
          "mark": {"type": "point", "filled": true, "fill": "#ffffff", "fillOpacity": 1, "opacity": 1, "strokeWidth": 1.3},
          "encoding": {
            "x": {"field": "x", "type": "quantitative", "scale": {"domain": [-10, 10], "nice": false, "zero": false},
              "axis": {"orient": "top", "title": null, "labels": false, "values": [-10,-9.6,-9.2,-8.8,-8.4,-8,-7.6,-7.2,-6.8,-6.4,-6,-5.6,-5.2,-4.8,-4.4,-4,-3.6,-3.2,-2.8,-2.4,-2,-1.6,-1.2,-0.8,-0.4,0,0.4,0.8,1.2,1.6,2,2.4,2.8,3.2,3.6,4,4.4,4.8,5.2,5.6,6,6.4,6.8,7.2,7.6,8,8.4,8.8,9.2,9.6,10],
                "tickSize": {"condition": {"test": "abs(datum.value/2-round(datum.value/2))<0.001", "value": -8}, "value": -4}}},
            "y": {"field": "y", "type": "quantitative", "scale": {"type": "log", "domain": [0.00001, 10000], "nice": false},
              "axis": {"orient": "right", "title": null, "labels": false,
                "values": [0.00001,0.00002,0.00003,0.00004,0.00005,0.00006,0.00007,0.00008,0.00009,0.0001,0.0002,0.0003,0.0004,0.0005,0.0006,0.0007,0.0008,0.0009,0.001,0.002,0.003,0.004,0.005,0.006,0.007,0.008,0.009,0.01,0.02,0.03,0.04,0.05,0.06,0.07,0.08,0.09,0.1,0.2,0.3,0.4,0.5,0.6,0.7,0.8,0.9,1,2,3,4,5,6,7,8,9,10,20,30,40,50,60,70,80,90,100,200,300,400,500,600,700,800,900,1000,2000,3000,4000,5000,6000,7000,8000,9000,10000],
                "tickSize": {"condition": {"test": "abs(log(datum.value)/LN10-round(log(datum.value)/LN10))<0.01", "value": -8}, "value": -4}}},
            "shape": {"field": "s", "type": "nominal", "scale": {"domain": ["1:0","2:1","1:1","1:2","1:5","0:1"], "range": ["square","circle","triangle-left","diamond","triangle-down","triangle-up"]}, "legend": null},
            "stroke": {"field": "s", "type": "nominal", "scale": {"domain": ["1:0","2:1","1:1","1:2","1:5","0:1"], "range": ["#555555","#555555","#666666","#aaaaaa","#111111","#999999"]}, "legend": null},
            "size": {"field": "s", "type": "nominal", "scale": {"domain": ["1:0","2:1","1:1","1:2","1:5","0:1"], "range": [170, 180, 250, 230, 250, 250]}, "legend": null}
          }
        },
        {
          "data": {"name": "notes"},
          "transform": [{"filter": "datum.p == 'b'"}],
          "mark": {"type": "text", "align": "left", "baseline": "middle", "fontSize": 20, "font": "Liberation Sans", "color": "#000000"},
          "encoding": {
            "x": {"field": "x", "type": "quantitative", "scale": {"domain": [-10, 10], "nice": false, "zero": false}, "axis": null},
            "y": {"field": "y", "type": "quantitative", "scale": {"type": "log", "domain": [0.00001, 10000], "nice": false}, "axis": null},
            "text": {"field": "t"}
          }
        }
      ],
      "resolve": {"axis": {"x": "independent", "y": "independent"}}
    },
    {
      "width": 161, "height": 451,
      "layer": [
        {
          "data": {"name": "curves"},
          "transform": [{"filter": "datum.p == 'c'"}],
          "mark": {"type": "line", "interpolate": "monotone"},
          "encoding": {
            "x": {"field": "x", "type": "quantitative", "scale": {"domain": [-2, 2], "nice": false, "zero": false},
              "axis": {"orient": "bottom", "title": null, "values": [-2,-1.8,-1.6,-1.4,-1.2,-1,-0.8,-0.6,-0.4,-0.2,0,0.2,0.4,0.6,0.8,1,1.2,1.4,1.6,1.8,2],
                "labelExpr": "abs(datum.value-round(datum.value))<0.001 ? (datum.value < -0.001 ? '-' + abs(round(datum.value)) : '' + round(datum.value)) : ''",
                "tickSize": {"condition": {"test": "abs(datum.value-round(datum.value))<0.001", "value": -8}, "value": -4},
                "labelPadding": 21}},
            "y": {"field": "y", "type": "quantitative", "scale": {"type": "log", "domain": [0.00001, 10000], "nice": false},
              "axis": {"orient": "left", "title": null, "labels": false,
                "values": [0.00001,0.00002,0.00003,0.00004,0.00005,0.00006,0.00007,0.00008,0.00009,0.0001,0.0002,0.0003,0.0004,0.0005,0.0006,0.0007,0.0008,0.0009,0.001,0.002,0.003,0.004,0.005,0.006,0.007,0.008,0.009,0.01,0.02,0.03,0.04,0.05,0.06,0.07,0.08,0.09,0.1,0.2,0.3,0.4,0.5,0.6,0.7,0.8,0.9,1,2,3,4,5,6,7,8,9,10,20,30,40,50,60,70,80,90,100,200,300,400,500,600,700,800,900,1000,2000,3000,4000,5000,6000,7000,8000,9000,10000],
                "tickSize": {"condition": {"test": "abs(log(datum.value)/LN10-round(log(datum.value)/LN10))<0.01", "value": -8}, "value": -4}}},
            "detail": {"field": "c"},
            "color": {"field": "s", "type": "nominal", "scale": {"domain": ["1:0","2:1","1:1","1:2","1:5","0:1"], "range": ["#000000","#555555","#6e6e6e","#b4b4b4","#1c1c1c","#909090"]}, "legend": null},
            "strokeWidth": {"field": "s", "type": "nominal", "scale": {"domain": ["1:0","2:1","1:1","1:2","1:5","0:1"], "range": [3, 2, 3, 2.5, 2.5, 2.5]}, "legend": null}
          }
        },
        {
          "data": {"name": "markers"},
          "transform": [{"filter": "datum.p == 'c'"}],
          "mark": {"type": "point", "filled": true, "fill": "#ffffff", "fillOpacity": 1, "opacity": 1, "strokeWidth": 1.3},
          "encoding": {
            "x": {"field": "x", "type": "quantitative", "scale": {"domain": [-2, 2], "nice": false, "zero": false},
              "axis": {"orient": "top", "title": null, "labels": false, "values": [-2,-1.8,-1.6,-1.4,-1.2,-1,-0.8,-0.6,-0.4,-0.2,0,0.2,0.4,0.6,0.8,1,1.2,1.4,1.6,1.8,2],
                "tickSize": {"condition": {"test": "abs(datum.value-round(datum.value))<0.001", "value": -8}, "value": -4}}},
            "y": {"field": "y", "type": "quantitative", "scale": {"type": "log", "domain": [0.00001, 10000], "nice": false},
              "axis": {"orient": "right", "title": null, "labels": false,
                "values": [0.00001,0.00002,0.00003,0.00004,0.00005,0.00006,0.00007,0.00008,0.00009,0.0001,0.0002,0.0003,0.0004,0.0005,0.0006,0.0007,0.0008,0.0009,0.001,0.002,0.003,0.004,0.005,0.006,0.007,0.008,0.009,0.01,0.02,0.03,0.04,0.05,0.06,0.07,0.08,0.09,0.1,0.2,0.3,0.4,0.5,0.6,0.7,0.8,0.9,1,2,3,4,5,6,7,8,9,10,20,30,40,50,60,70,80,90,100,200,300,400,500,600,700,800,900,1000,2000,3000,4000,5000,6000,7000,8000,9000,10000],
                "tickSize": {"condition": {"test": "abs(log(datum.value)/LN10-round(log(datum.value)/LN10))<0.01", "value": -8}, "value": -4}}},
            "shape": {"field": "s", "type": "nominal", "scale": {"domain": ["1:0","2:1","1:1","1:2","1:5","0:1"], "range": ["square","circle","triangle-left","diamond","triangle-down","triangle-up"]}, "legend": null},
            "stroke": {"field": "s", "type": "nominal", "scale": {"domain": ["1:0","2:1","1:1","1:2","1:5","0:1"], "range": ["#555555","#555555","#666666","#aaaaaa","#111111","#999999"]}, "legend": null},
            "size": {"field": "s", "type": "nominal", "scale": {"domain": ["1:0","2:1","1:1","1:2","1:5","0:1"], "range": [170, 180, 250, 230, 250, 250]}, "legend": null}
          }
        },
        {
          "data": {"name": "notes"},
          "transform": [{"filter": "datum.p == 'c'"}],
          "mark": {"type": "text", "align": "left", "baseline": "middle", "fontSize": 20, "font": "Liberation Sans", "color": "#000000"},
          "encoding": {
            "x": {"field": "x", "type": "quantitative", "scale": {"domain": [-2, 2], "nice": false, "zero": false}, "axis": null},
            "y": {"field": "y", "type": "quantitative", "scale": {"type": "log", "domain": [0.00001, 10000], "nice": false}, "axis": null},
            "text": {"field": "t"}
          }
        }
      ],
      "resolve": {"axis": {"x": "independent", "y": "independent"}}
    }
  ]
}
